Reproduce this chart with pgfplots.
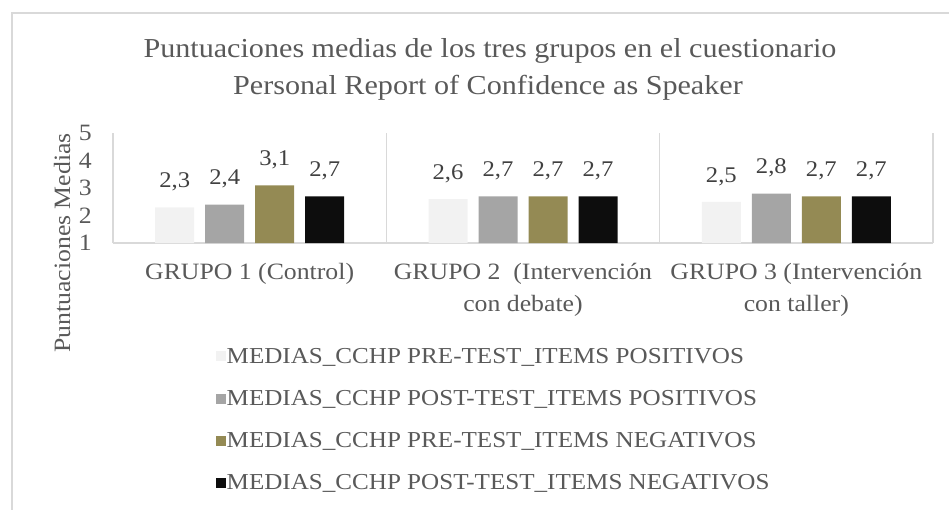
\documentclass[border=0pt]{standalone}
\usepackage{pgfplots}
\pgfplotsset{compat=1.18}
\usepackage{fontspec}
\setmainfont{Liberation Serif}[FakeStretch=1.1]
\definecolor{c1}{HTML}{F2F2F2}
\definecolor{c2}{HTML}{A5A5A5}
\definecolor{c3}{HTML}{948A54}
\definecolor{c4}{HTML}{0D0D0D}
\definecolor{gridc}{HTML}{D9D9D9}
\definecolor{txt}{HTML}{595959}
\definecolor{lab}{HTML}{404040}
\begin{document}
\begin{tikzpicture}
\useasboundingbox (0bp,0bp) rectangle (949bp,-510bp);
\draw[color=gridc, line width=1.5bp] (12bp,-510bp) -- (12bp,-13bp) -- (949bp,-13bp);
\node[anchor=base, text=txt, font=\fontsize{27.5}{33}\selectfont, inner sep=0] at (490bp,-57bp) {Puntuaciones medias de los tres grupos en el cuestionario};
\node[anchor=base, text=txt, font=\fontsize{27.5}{33}\selectfont, inner sep=0] at (488bp,-94bp) {Personal Report of Confidence as Speaker};
\node[rotate=90, text=txt, font=\fontsize{23.5}{28}\selectfont, inner sep=0] at (62bp,-243bp) {Puntuaciones Medias};
\begin{axis}[
  at={(113bp,-243bp)}, anchor=south west,
  width=820bp, height=110bp, scale only axis,
  xmin=-0.5, xmax=2.5, ymin=1, ymax=5,
  ybar=11bp, bar width=39bp,
  axis x line*=bottom, axis y line*=left,
  axis line style={draw=gridc, line width=1.2bp},
  xtick={0,1,2},
  xticklabels={{GRUPO 1 (Control)}, {GRUPO 2\ \ (Intervención\\con debate)}, {GRUPO 3 (Intervención\\con taller)}},
  xticklabel style={align=center, font=\fontsize{23.5}{32}\selectfont, text=txt, inner sep=0pt, yshift=-20bp},
  minor xtick={0.5,1.5,2.5},
  xminorgrids=true,
  minor grid style={draw=gridc, line width=1.2bp},
  major tick length=0pt, minor tick length=0pt,
  ytick={1,2,3,4,5},
  yticklabel style={font=\fontsize{23.5}{28}\selectfont, text=txt, inner sep=0pt, xshift=-21bp},
  /pgf/number format/assume math mode=true,
  nodes near coords={\pgfmathprintnumber[use comma, fixed, fixed zerofill, precision=1, assume math mode=true]{\pgfplotspointmeta}},
  every node near coord/.append style={font=\fontsize{22.5}{26}\selectfont, text=lab, inner sep=0pt, anchor=south, yshift=16bp},
  legend image code/.code={\fill[#1] (0bp,-5bp) rectangle (10bp,5bp);},
  legend style={at={(axis description cs:0.125,-0.945)}, anchor=north west, draw=none, fill=none,
    font=\fontsize{22.9}{28}\selectfont, text=txt, row sep=23.5bp, inner sep=0pt, nodes={inner sep=1bp}},
  legend cell align=left,
]
\addplot[fill=c1, draw=none] coordinates {(0,2.3) (1,2.6) (2,2.5)};
\addplot[fill=c2, draw=none] coordinates {(0,2.4) (1,2.7) (2,2.8)};
\addplot[fill=c3, draw=none] coordinates {(0,3.1) (1,2.7) (2,2.7)};
\addplot[fill=c4, draw=none] coordinates {(0,2.7) (1,2.7) (2,2.7)};
\legend{MEDIAS\_CCHP PRE-TEST\_ITEMS POSITIVOS, MEDIAS\_CCHP POST-TEST\_ITEMS POSITIVOS, MEDIAS\_CCHP PRE-TEST\_ITEMS NEGATIVOS, MEDIAS\_CCHP POST-TEST\_ITEMS NEGATIVOS}
\end{axis}
\end{tikzpicture}
\end{document}
